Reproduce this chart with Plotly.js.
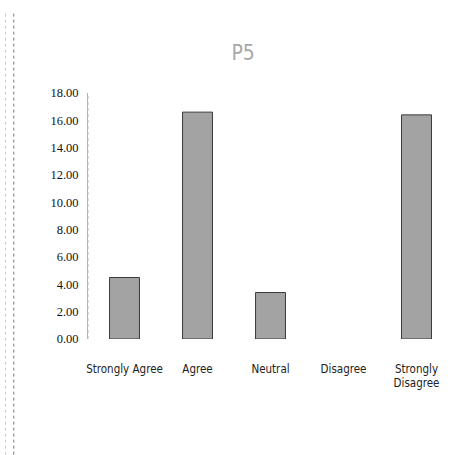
<!DOCTYPE html>
<html><head><meta charset="utf-8">
<script src="https://cdn.plot.ly/plotly-3.0.1.min.js"></script>
<style>body{margin:0;background:#fff}#c{width:465px;height:455px}</style>
</head><body><div id="c"></div>
<script>
const categories = ["Strongly Agree", "Agree", "Neutral", "Disagree", "Strongly<br>Disagree"];
const values = [4.5, 16.6, 3.4, 0, 16.4];
const yTicks = [0, 2, 4, 6, 8, 10, 12, 14, 16, 18];
const yTickLabels = ["0.00", "2.00", "4.00", "6.00", "8.00", "10.00", "12.00", "14.00", "16.00", "18.00"];

const trace = {
  type: "bar",
  x: categories,
  y: values,
  width: 0.41,
  marker: {color: "#a3a3a3", line: {color: "#3a3a3a", width: values.map(v => v > 0 ? 1 : 0)}},
  hoverinfo: "none"
};

const layout = {
  width: 465, height: 455,
  margin: {l: 88, r: 12, t: 93, b: 116},
  paper_bgcolor: "#fff", plot_bgcolor: "#fff",
  showlegend: false,
  title: {text: "P5", x: 0.523, xanchor: "center", y: 0.885, yanchor: "middle",
          font: {family: "DejaVu Sans Condensed, sans-serif", weight: 300, size: 21, color: "#a8a8a8"}},
  xaxis: {showline: false, showgrid: false, zeroline: false, ticks: "",
          tickfont: {family: "DejaVu Sans Condensed, sans-serif", size: 11.5, color: "#222"},
          ticklabelstandoff: 21},
  yaxis: {range: [0, 18], tickvals: yTicks, ticktext: yTickLabels,
          showgrid: false, zeroline: false, showline: true, linecolor: "#b0b0b0", linewidth: 1,
          ticks: "", ticklabelstandoff: 6,
          tickfont: {family: "Liberation Serif, serif", size: 12.5, color: "#111"}},
  shapes: [
    {type: "line", xref: "paper", yref: "paper", x0: 0, x1: 0, y0: 0, y1: 1, line: {color: "#bdbdbd", width: 1, dash: "dot"}},
    {type: "line", xref: "paper", yref: "paper", x0: -0.2033, x1: -0.2033, y0: -0.47, y1: 1.33, line: {color: "#777", width: 1, dash: "dot"}},
    {type: "line", xref: "paper", yref: "paper", x0: -0.226, x1: -0.226, y0: -0.47, y1: 1.33, line: {color: "#ccc", width: 1, dash: "dot"}}
  ]
};

Plotly.newPlot("c", [trace], layout, {displayModeBar: false, staticPlot: true});
</script></body></html>
